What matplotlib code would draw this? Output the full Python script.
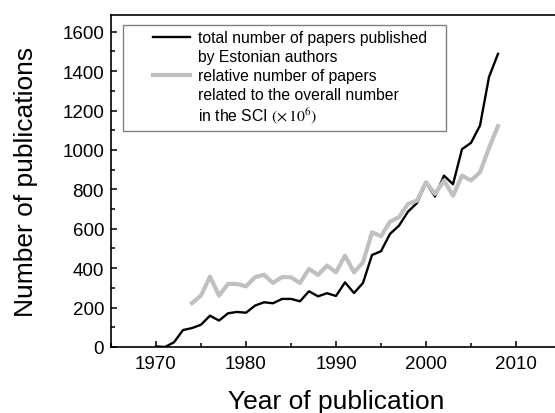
import matplotlib
matplotlib.use("Agg")
import matplotlib.pyplot as plt
from matplotlib.lines import Line2D
from matplotlib.legend_handler import HandlerLine2D
from matplotlib.ticker import MultipleLocator

plt.rcParams['font.family'] = ['Liberation Sans', 'DejaVu Sans']
plt.rcParams['mathtext.fontset'] = 'stix'

# Data
years_total = list(range(1970, 2009))
total_papers = [3, 0, 24, 86, 96, 113, 159, 134, 171, 178,
                174, 210, 227, 222, 244, 244, 232, 283, 257, 273,
                259, 328, 274, 325, 467, 486, 574, 616, 687, 731,
                833, 764, 870, 826, 1004, 1036, 1124, 1370, 1488]

years_rel = list(range(1974, 2009))
relative_papers = [223, 261, 357, 261, 320, 320, 308, 354, 367, 325,
                   355, 354, 325, 396, 366, 413, 379, 464, 379, 430,
                   582, 562, 636, 659, 726, 743, 836, 777, 845, 768,
                   870, 845, 887, 1010, 1121]

W, H = 555, 414
fig = plt.figure(figsize=(W / 100, H / 100), dpi=100)
# axes deliberately runs a little past the right edge of the figure
ax = fig.add_axes([111 / W, 1 - 348 / H, 450 / W, 332 / H])

ax.plot(years_total, total_papers, color='black', linewidth=1.7)
ax.plot(years_rel, relative_papers, color='#c0c0c0', linewidth=3)

ax.set_xlim(1965, 2015)
ax.set_ylim(0, 1685)
ax.xaxis.set_major_locator(MultipleLocator(10))
ax.xaxis.set_minor_locator(MultipleLocator(5))
ax.yaxis.set_major_locator(MultipleLocator(200))
ax.yaxis.set_minor_locator(MultipleLocator(100))
ax.tick_params(which='both', direction='in', width=1.1, labelsize=13.5)
ax.tick_params(which='major', length=4.5)
ax.tick_params(which='minor', length=3)
ax.tick_params(axis='x', pad=6)
ax.tick_params(axis='y', pad=5)
for s in ax.spines.values():
    s.set_linewidth(1.2)
ax.spines['right'].set_visible(False)

ax.set_xlabel("Year of publication", fontsize=19, va='top')
ax.xaxis.set_label_coords(0.5, -0.127)
ax.set_ylabel("Number of publications", fontsize=19)
ax.yaxis.set_label_coords(-0.162, 0.5)

blank = Line2D([], [], color='none')
handles = [Line2D([], [], color='black', linewidth=1.7), blank,
           Line2D([], [], color='#c0c0c0', linewidth=3), blank, blank]
labels = ["total number of papers published   ",
          "by Estonian authors",
          "relative number of papers",
          "related to the overall number",
          r"in the SCI $(\times\,10^6)$"]
fs = 11.3
leg = ax.legend(handles, labels, loc='upper left',
                bbox_to_anchor=(123 / W, 1 - 26 / H), bbox_transform=fig.transFigure,
                borderaxespad=0, fontsize=fs, frameon=True, fancybox=False,
                edgecolor='#808080', framealpha=1, borderpad=0.35,
                labelspacing=0.24, handlelength=3.95, handletextpad=0.5,
                handler_map={Line2D: HandlerLine2D(xpad=1.53)})
leg.get_frame().set_linewidth(1.0)

fig.savefig("out.png", dpi=100)
